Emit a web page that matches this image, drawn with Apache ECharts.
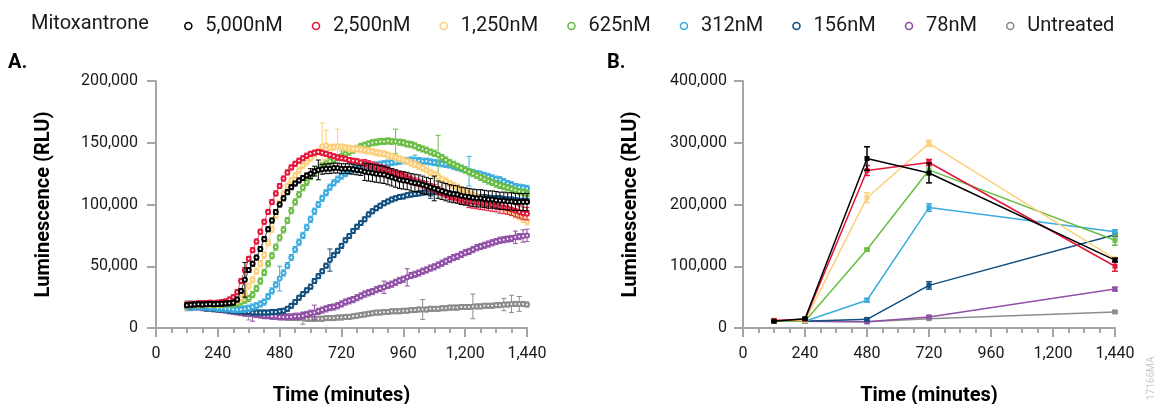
<!DOCTYPE html>
<html><head><meta charset="utf-8">
<script src="https://cdn.jsdelivr.net/npm/echarts@6/dist/echarts.min.js"></script>
<style>html,body{margin:0;padding:0;background:#fff}#c{width:1159px;height:404px}</style>
</head><body><div id="c"></div>
<script>
// Values in thousands of RLU
const seriesNames = ['5,000nM','2,500nM','1,250nM','625nM','312nM','156nM','78nM','Untreated'];
const seriesColors = ['#000000','#e3173c','#fdd07c','#6abd45','#3cacdf','#12507f','#9050a6','#8c8c8c'];

const timesA = [120,135,150,165,180,195,210,225,240,255,
 270,285,300,315,330,345,360,375,390,405,
 420,435,450,465,480,495,510,525,540,555,
 570,585,600,615,630,645,660,675,690,705,
 720,735,750,765,780,795,810,825,840,855,
 870,885,900,915,930,945,960,975,990,1005,
 1020,1035,1050,1065,1080,1095,1110,1125,1140,1155,
 1170,1185,1200,1215,1230,1245,1260,1275,1290,1305,
 1320,1335,1350,1365,1380,1395,1410,1425,1440];

const a5000 = [18.5,18.8,19,19.2,19,19.3,19.5,19.2,19.5,19.6,
 19.8,20,20.5,23,30,39,47,52,57,64,
 72,80,87,94,100,105,110,114,117,119.5,
 121.5,123.5,125,127,128,128.5,129,129,129.5,129.5,
 129,129,129,128.5,128,127.5,126.5,126,125.5,125,
 124.5,124,123,122,121,120,119.5,119,118,117.5,
 117,116,115,114,113,112,111,110,109,108.5,
 108,107,106.5,106,105.5,105,105,104.5,104,104,
 103.5,103,103,102.5,102.5,102,102,102,102];
const a2500 = [19,19.5,19.5,20,20,20,20.5,20,20.5,21,
 21.5,23,25,29,38,47,56,63,70,78,
 86,94,102,109,115,121,126,130,133,135.5,
 137.5,139.5,141,142,142.5,142,141,140,139,138,
 137.5,137,136,135.5,135,134,133.5,132.5,131.5,130.5,
 129.5,128.5,127.5,126,125,124,123,121.5,120,118.5,
 117.5,116.5,115.5,114,113,111.5,110,108.5,107,106,
 105,104,103,102.5,102,101.5,101,100.5,100,99.5,
 99,98,97.5,97,96,95,94,93,92.5];
const a1250 = [19,19,19.5,19,19.5,19.5,19.5,19.5,19.5,20,
 20,20.5,21,22,24,28,34,39,46,52,
 59,69,80,91,101,109,115,119.5,123.5,127.5,
 131.5,134.5,137.5,140.5,143,147,148,146,146.5,147,
 146.5,146,145.5,145,145,144.5,144,143.5,143,142,
 141.5,141,140,139,138,137,136,135,133.5,132.5,
 131,129.5,128,126,124.5,122.5,120.5,119,117,115.5,
 114,112,110.5,109,107.5,106,104.5,103,101.5,100.5,
 99.5,98,96.5,95,93.5,91.5,90,88,86];
const a625 = [18.5,19,19,19,19,19.5,19.5,19,19,19,
 19.5,19.5,19.5,20,21,22.5,24,27,32,38,
 45,52,58.5,65.5,73,79.5,87,95,102,108,
 113.5,118,122.5,126,128.5,131.5,133.5,135,136.5,138,
 139.5,141,142.5,144,145.5,147,148,149,150,150.5,
 151,151,151.5,151,151,150.5,150,149,148.5,147.5,
 146,145,144,142.5,141.5,140,138,136,134,132.5,
 131,129.5,128,126.5,125,123.5,122,120.5,119,118,
 116.5,115.5,114.5,113.5,112.5,111.5,110.5,110,109];
const a312 = [18,18,17.5,17.5,17,17,16.5,16.5,16,16,
 15.5,15.5,15,15,15,15.5,16,17,18,19.5,
 21,25.5,30,35,40,44.5,50.5,57,63.5,69.5,
 75,81.5,88,94.5,100,105,109.5,114,117.5,120.5,
 123,125,127,128.5,129,129.5,130,130.5,131,132,
 132.5,133,133.5,134,134.5,135,135.5,135.5,136,136,
 135.5,135,135,134.5,134,133.5,133,132.5,132,131,
 130,129,128,127,126,125,124.5,123.5,122.5,121.5,
 120.5,120,118.5,117,116,114.5,114,113.5,113];
const a156 = [18,17.5,17,17,16.5,16,16,15.5,15,15,
 14.5,14,14,13.5,13.5,13,13,12.5,12.5,12.5,
 12.5,12.5,13,13,13.5,14,15.5,18,21,24.5,
 27.5,30.5,33.5,38,42,46,50.5,55,59,62.5,
 66.5,71,74.5,78.5,82,85,88,92,94.5,97,
 99,101,102.5,104,105,106,106.5,107.5,108,108.5,
 109,109.5,110,110,110,110,109.5,109,109,108.5,
 108,107.5,107,107,106.5,106,106,106,105.5,105,
 105,105,104.5,104,104,103.5,103,103,103];
const a78 = [18,17.5,17,17,16.5,16,16,15.5,15.5,15,
 14.5,14,13.5,13,12.5,12,12,11.5,11,10.5,
 10,10,9.5,9.5,9,9,9,9,9.5,9.5,
 10,11,12,12.5,13.5,14.5,15.5,16.5,17,18,
 19.5,21,22,23,24.5,26,27.5,28.5,29.5,31,
 32,33,34.5,35.5,37,38.5,39.5,41,42.5,43.5,
 44.5,46,47,48.5,49.5,51,52.5,54,55.5,57,
 58,59.5,61,62,63.5,65,66,67,68,69,
 70,71,71.5,72,72.5,73.5,74,74.5,75];
const aUntreated = [18,17.5,17,17,16.5,16,16,15.5,15.5,15,
 14.5,14,13.5,13,12.5,12,11.5,11,11,10.5,
 10,10,9.5,9.5,9,9,8.5,8.5,8,8,
 8,7.5,7.5,7.5,7.5,7.5,8,8,8,8.5,
 8.5,9,9,9.5,10,10.5,11,11.5,12,12.5,
 12.5,13,13,13.5,13.5,13.5,14,14,14.5,14.5,
 15,15,15,15.5,15.5,15.5,16,16,16.5,16.5,
 16.5,17,17,17,17.5,17.5,17.5,18,18,18,
 18.5,18.5,19,19,19.5,19.5,19.5,19.5,19];

// Error bars (panel A): [fromTime, toTime, error] ranges and [time, error] spikes
const errRangesA = [
 [[120,585,2],[600,795,4],[810,1440,7]],
 [[120,795,2],[810,1200,3],[1215,1440,5]],
 [[120,1440,2.5]],
 [[120,1440,2.5]],
 [[120,1440,2.5]],
 [[120,1440,2]],
 [[120,1440,2.5]],
 [[120,1440,2]]
];
const errSpikesA = [
 [[345,14],[630,8],[1080,10]],
 [],
 [[645,19],[660,12],[705,14]],
 [[930,10],[1095,16],[720,4]],
 [[480,10],[135,4],[1005,4],[1215,12]],
 [[675,9],[1065,5]],
 [[375,6],[615,6],[885,5],[975,7],[1395,5],[1425,5],[1440,5]],
 [[120,4],[360,5],[570,5],[1035,8],[1230,10],[1350,5],[1380,7],[1410,6]]
];

// Panel B
const timesB = [120,240,480,720,1440];
const b5000 = [11,15,274.5,251,110];
const b2500 = [12,14,255,268,100];
const b1250 = [13,12,211,299,112];
const b625 = [11,11,127,256,142];
const b312 = [11,11,45,195,156];
const b156 = [11,11,14,69,151];
const b78 = [11,11,10,18,63];
const bUntreated = [11,11,10,15,26];
const eB5000 = [1,2,19,16,3];
const eB2500 = [1,1,8,5,8];
const eB1250 = [1,1,8,5,2];
const eB625 = [1,1,2,8,8];
const eB312 = [1,1,3,6,3];
const eB156 = [1,1,2,6,2];
const eB78 = [1,1,1,2,3];
const eBUntreated = [1,1,1,1,2];

const seriesA = [a5000,a2500,a1250,a625,a312,a156,a78,aUntreated];
const seriesB = [b5000,b2500,b1250,b625,b312,b156,b78,bUntreated];
const errB = [eB5000,eB2500,eB1250,eB625,eB312,eB156,eB78,eBUntreated];

function errAt(i, t) {
  for (const s of errSpikesA[i]) if (s[0] === t) return s[1];
  for (const r of errRangesA[i]) if (t >= r[0] && t <= r[1]) return r[2];
  return 2;
}

const FONT = 'Roboto';
const AX = '#a6a6a6';
const fmt = v => Number(v).toLocaleString('en-US');
const fmtK = v => (v * 1000).toLocaleString('en-US');

function makeErrRender(cap, lw) {
  return function (params, api) {
    const x = api.value(0), lo = api.value(1), hi = api.value(2);
    const p1 = api.coord([x, lo]), p2 = api.coord([x, hi]);
    const style = { stroke: api.visual('color'), lineWidth: lw };
    return { type: 'group', children: [
      { type: 'line', shape: { x1: p1[0], y1: p1[1], x2: p2[0], y2: p2[1] }, style },
      { type: 'line', shape: { x1: p1[0]-cap, y1: p1[1], x2: p1[0]+cap, y2: p1[1] }, style },
      { type: 'line', shape: { x1: p2[0]-cap, y1: p2[1], x2: p2[0]+cap, y2: p2[1] }, style }
    ]};
  };
}

function xAxisCfg(gi) {
  return {
    gridIndex: gi, type: 'value', min: 0, max: 1440, interval: 240,
    axisLine: { show: true, onZero: false, lineStyle: { color: AX, width: 2 } },
    axisTick: { show: true, length: 9, lineStyle: { color: AX, width: 2 } },
    minorTick: { show: true, splitNumber: 4, length: 5, lineStyle: { color: AX, width: 2 } },
    splitLine: { show: false }, minorSplitLine: { show: false },
    axisLabel: { fontFamily: FONT, fontSize: 16, color: '#1a1a1a', margin: 18, formatter: fmt },
    name: 'Time (minutes)', nameLocation: 'middle', nameGap: 58,
    nameTextStyle: { fontFamily: FONT, fontSize: 20, fontWeight: 'bold', color: '#000' }
  };
}
function yAxisCfg(gi, max, interval, margin) {
  return {
    gridIndex: gi, type: 'value', min: 0, max: max, interval: interval,
    axisLine: { show: true, lineStyle: { color: AX, width: 2 } },
    axisTick: { show: true, length: 9, lineStyle: { color: AX, width: 2 } },
    splitLine: { show: false },
    axisLabel: { fontFamily: FONT, fontSize: 16, color: '#1a1a1a', margin: margin, formatter: fmtK },
    name: 'Luminescence (RLU)', nameLocation: 'middle', nameGap: 102, nameRotate: 90,
    nameTextStyle: { fontFamily: FONT, fontSize: 20, fontWeight: 'bold', color: '#000' }
  };
}

const series = [];
for (let i = seriesNames.length - 1; i >= 0; i--) {
  const c = seriesColors[i];
  const z = 10 + (seriesNames.length - i) * 2;
  series.push({
    type: 'custom', name: seriesNames[i], xAxisIndex: 0, yAxisIndex: 0, z: z,
    itemStyle: { color: c }, renderItem: makeErrRender(2.5, 1),
    data: timesA.map((t, k) => [t, seriesA[i][k] - errAt(i, t), seriesA[i][k] + errAt(i, t)]),
    silent: true
  });
  series.push({
    type: 'line', name: seriesNames[i], xAxisIndex: 0, yAxisIndex: 0, z: z + 1,
    data: timesA.map((t, k) => [t, seriesA[i][k]]),
    symbol: 'emptyCircle', symbolSize: 4, showAllSymbol: true,
    lineStyle: { color: c, width: 0.8 }, itemStyle: { color: c, borderWidth: 0.9 }
  });
  series.push({
    type: 'custom', name: seriesNames[i], xAxisIndex: 1, yAxisIndex: 1, z: z,
    itemStyle: { color: c }, renderItem: makeErrRender(3, 1.5),
    data: timesB.map((t, k) => [t, seriesB[i][k] - errB[i][k], seriesB[i][k] + errB[i][k]]),
    silent: true
  });
  series.push({
    type: 'line', name: seriesNames[i], xAxisIndex: 1, yAxisIndex: 1, z: z + 1,
    data: timesB.map((t, k) => [t, seriesB[i][k]]),
    symbol: 'rect', symbolSize: 5,
    lineStyle: { color: c, width: 1.5 }, itemStyle: { color: c }
  });
}

const chart = echarts.init(document.getElementById('c'), null, { renderer: 'canvas' });
chart.setOption({
  animation: false,
  backgroundColor: '#ffffff',
  textStyle: { fontFamily: FONT },
  legend: {
    data: seriesNames.map((n, i) => ({
      name: n, icon: 'circle',
      itemStyle: { color: '#ffffff', borderColor: seriesColors[i], borderWidth: 1.6 }
    })),
    left: 179, top: 11,
    itemWidth: 24, itemHeight: 7, itemGap: 29,
    textStyle: { fontFamily: FONT, fontSize: 20, color: '#1a1a1a' }
  },
  grid: [
    { left: 156, right: 632, top: 81, bottom: 76, outerBoundsMode: 'none', containLabel: false },
    { left: 743, right: 44, top: 81, bottom: 76, outerBoundsMode: 'none', containLabel: false }
  ],
  xAxis: [xAxisCfg(0), xAxisCfg(1)],
  yAxis: [yAxisCfg(0, 200, 50, 18), yAxisCfg(1, 400, 100, 16)],
  graphic: [
    { type: 'text', left: 31, top: 14, style: { text: 'Mitoxantrone', fontFamily: FONT, fontSize: 20, fill: '#1a1a1a' } },
    { type: 'text', left: 8, top: 53, style: { text: 'A.', fontFamily: FONT, fontSize: 20, fontWeight: 'bold', fill: '#000' } },
    { type: 'text', left: 607, top: 53, style: { text: 'B.', fontFamily: FONT, fontSize: 20, fontWeight: 'bold', fill: '#000' } },
    { type: 'text', x: 1146, y: 400, rotation: Math.PI / 2, style: { text: '17166MA', fontFamily: FONT, fontSize: 10, fill: '#c8c8c8' } }
  ],
  series: series
});
</script>
</body></html>
